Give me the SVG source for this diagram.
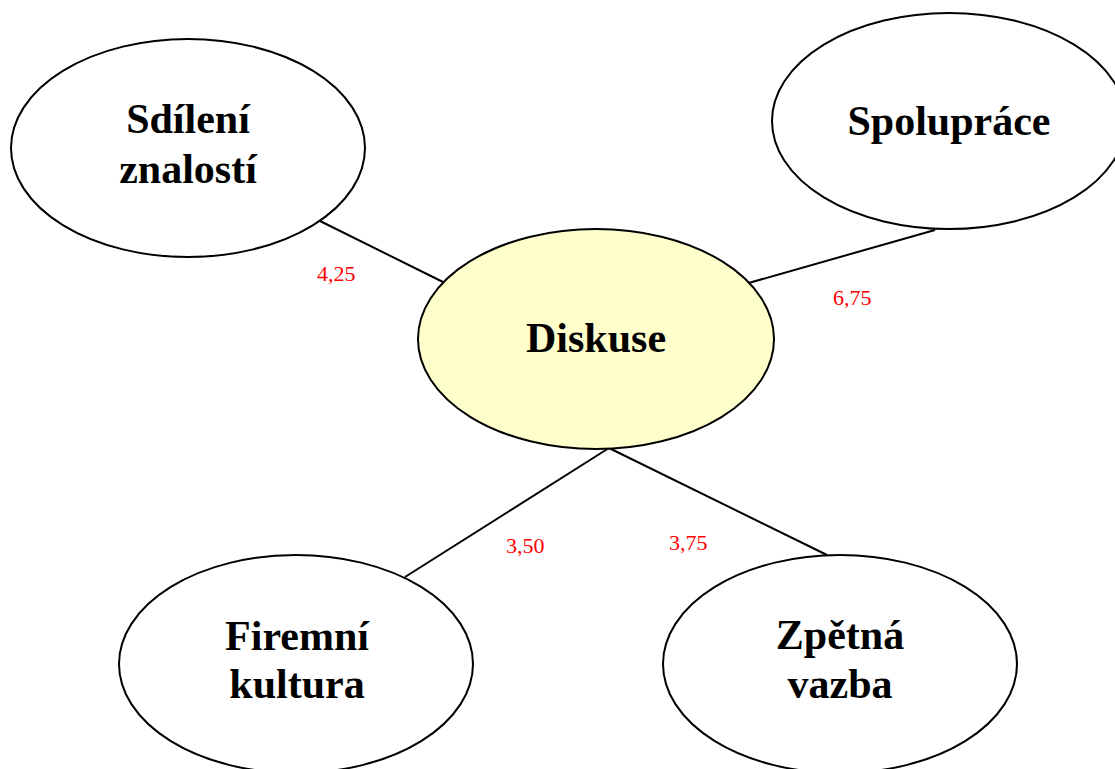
<svg xmlns="http://www.w3.org/2000/svg" width="1115" height="769" viewBox="0 0 1115 769">
  <style>
    .node { fill: #ffffff; stroke: #000000; stroke-width: 2; }
    .center { fill: #ffffcc; }
    .label { font-family: "Liberation Serif", "Times New Roman", serif; font-weight: bold; font-size: 42px; fill: #000000; text-anchor: middle; }
    .edge { stroke: #000000; stroke-width: 2; fill: none; }
    .weight { font-family: "Liberation Serif", "Times New Roman", serif; font-size: 22px; fill: #ff0000; }
  </style>
  <rect x="0" y="0" width="1115" height="769" fill="#ffffff"/>

  <!-- connectors and their weights -->
  <g id="connectors">
    <line class="edge" x1="320" y1="221" x2="443" y2="282"/>
    <line class="edge" x1="935" y1="230" x2="745" y2="284"/>
    <line class="edge" x1="609" y1="448" x2="405" y2="577"/>
    <line class="edge" x1="609" y1="448" x2="827" y2="555"/>
    <text class="weight" x="317" y="281">4,25</text>
    <text class="weight" x="833" y="305">6,75</text>
    <text class="weight" x="506" y="553">3,50</text>
    <text class="weight" x="669" y="550">3,75</text>
  </g>

  <g id="sdileni">
    <ellipse class="node" cx="188" cy="148" rx="177" ry="109"/>
    <text class="label" x="188" y="133">Sdílení</text>
    <text class="label" x="188" y="183">znalostí</text>
  </g>

  <g id="spoluprace">
    <ellipse class="node" cx="949" cy="121" rx="177" ry="108"/>
    <text class="label" x="949" y="135">Spolupráce</text>
  </g>

  <g id="diskuse">
    <ellipse class="node center" cx="596" cy="339" rx="178" ry="110"/>
    <text class="label" x="596" y="352">Diskuse</text>
  </g>

  <g id="firemni-kultura">
    <ellipse class="node" cx="296" cy="664" rx="177" ry="109"/>
    <text class="label" x="297" y="650">Firemní</text>
    <text class="label" x="297" y="698">kultura</text>
  </g>

  <g id="zpetna-vazba">
    <ellipse class="node" cx="840" cy="664" rx="177" ry="109"/>
    <text class="label" x="840" y="649">Zpětná</text>
    <text class="label" x="840" y="698">vazba</text>
  </g>
</svg>
